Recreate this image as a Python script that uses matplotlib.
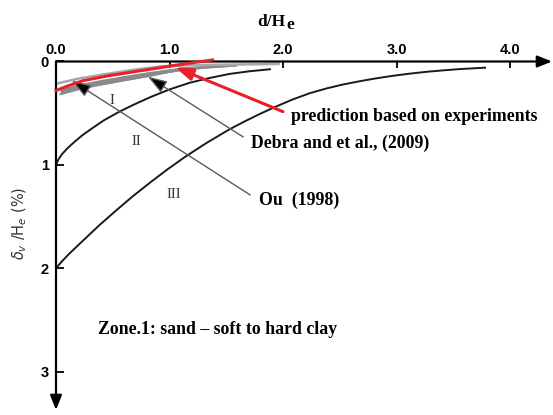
import matplotlib
matplotlib.use("Agg")
import matplotlib.pyplot as plt

# ---- data ----
# boundary curve between zones I and II
curve1_x = [0.0, 0.02, 0.05, 0.10, 0.16, 0.23, 0.30, 0.42, 0.55, 0.68, 0.83, 1.0, 1.18, 1.35, 1.53, 1.70, 1.885]
curve1_y = [1.0, 0.95, 0.90, 0.84, 0.78, 0.715, 0.66, 0.57, 0.49, 0.42, 0.345, 0.27, 0.205, 0.16, 0.12, 0.095, 0.075]
# boundary curve between zones II and III
curve2_x = [0.0, 0.05, 0.12, 0.24, 0.38, 0.53, 0.68, 0.83, 0.98, 1.14, 1.33, 1.53, 1.67, 1.80, 1.94, 2.09,
            2.24, 2.385, 2.53, 2.68, 2.82, 2.97, 3.12, 3.27, 3.42, 3.56, 3.78]
curve2_y = [2.0, 1.935, 1.855, 1.73, 1.585, 1.44, 1.30, 1.17, 1.045, 0.92, 0.785, 0.655, 0.575, 0.505, 0.435,
            0.365, 0.305, 0.26, 0.222, 0.19, 0.163, 0.138, 0.117, 0.099, 0.085, 0.073, 0.06]
# Debra et al. (2009) gray band
band_x = [0.035, 0.2, 0.39, 0.6, 0.80, 0.96, 1.12, 1.35, 1.59]
band_low = [0.32, 0.27, 0.227, 0.185, 0.147, 0.112, 0.082, 0.06, 0.043]
band_high = [0.265, 0.215, 0.175, 0.135, 0.10, 0.075, 0.05, 0.035, 0.028]
band_thin_x = [0.02, 0.2, 0.39, 0.65, 0.92, 1.2, 1.5, 1.75, 1.96]
band_thin_y = [0.21, 0.165, 0.13, 0.085, 0.048, 0.035, 0.03, 0.027, 0.024]
# prediction based on experiments (red)
pred_x = [0.0, 0.12, 0.24, 0.45, 0.68, 0.86, 1.03, 1.2, 1.38]
pred_y = [0.28, 0.23, 0.185, 0.14, 0.10, 0.07, 0.04, 0.012, -0.015]

x_ticks = [0, 1, 2, 3, 4]
x_tick_labels = ["0.0", "1.0", "2.0", "3.0", "4.0"]
y_ticks = [0, 1, 2, 3]
y_tick_labels = ["0", "1", "2", "3"]

SERIF = ["Liberation Serif", "DejaVu Serif"]
SANS = ["Liberation Sans", "DejaVu Sans"]

fig = plt.figure(figsize=(5.53, 4.15), dpi=100)
ax = fig.add_axes([56 / 553, 5 / 415, 496 / 553, 348.5 / 415])
XMAX, YMAX = 4.37, 3.37
ax.set_xlim(0, XMAX)
ax.set_ylim(YMAX, 0)
for s in ax.spines.values():
    s.set_visible(False)

AX_ARROW = "-|>,head_length=0.55,head_width=0.22"
ax.annotate("", xy=(XMAX, 0), xytext=(0, 0), annotation_clip=False,
            arrowprops=dict(arrowstyle=AX_ARROW, color="k", lw=1.6, mutation_scale=16, shrinkA=0, shrinkB=0))
ax.annotate("", xy=(0, YMAX), xytext=(0, 0), annotation_clip=False,
            arrowprops=dict(arrowstyle=AX_ARROW, color="k", lw=1.6, mutation_scale=16, shrinkA=0, shrinkB=0))

ax.xaxis.tick_top()
ax.set_xticks(x_ticks)
ax.set_xticklabels(x_tick_labels, fontfamily=SANS, fontweight="bold", fontsize=10.5)
ax.set_yticks(y_ticks)
ax.set_yticklabels(y_tick_labels, fontfamily=SANS, fontweight="bold", fontsize=10.5)
ax.tick_params(axis="x", direction="in", length=5, width=1.3, pad=3)
ax.tick_params(axis="y", direction="in", length=6, width=1.3, pad=5)

# curves
ax.plot(curve1_x, curve1_y, color="#1a1a1a", lw=1.4)
ax.plot(curve2_x, curve2_y, color="#1a1a1a", lw=1.4)

# gray band
ax.fill_between(band_x, band_low, band_high, color="#8a8a8a", lw=0)
ax.plot(band_x, band_low, color="#8a8a8a", lw=1.0)
ax.plot(band_thin_x, band_thin_y, color="#a8a8a8", lw=1.8, clip_on=False)

# red prediction line
ax.plot(pred_x, pred_y, color="#e8202a", lw=2.2, clip_on=False, zorder=5)

# pointer arrows
PTR = "-|>,head_length=0.65,head_width=0.22"
ax.annotate("", xy=(0.14, 0.185), xytext=(1.71, 1.29),
            arrowprops=dict(arrowstyle=PTR, ec="#5a5a5a", fc="k", lw=1.0, mutation_scale=18, shrinkA=0, shrinkB=0))
ax.annotate("", xy=(0.81, 0.147), xytext=(1.65, 0.73),
            arrowprops=dict(arrowstyle=PTR, ec="#5a5a5a", fc="k", lw=1.0, mutation_scale=18, shrinkA=0, shrinkB=0))
ax.annotate("", xy=(1.05, 0.056), xytext=(2.0, 0.485), zorder=6,
            arrowprops=dict(arrowstyle=PTR, color="#e8202a", lw=2.2, mutation_scale=16, shrinkA=0, shrinkB=0))

# labels
FS = 12.8
ax.text(2.07, 0.533, "prediction based on experiments", fontfamily=SERIF, fontweight="bold",
        fontsize=FS, va="center", ha="left")
ax.text(1.715, 0.79, "Debra and et al., (2009)", fontfamily=SERIF, fontweight="bold",
        fontsize=FS, va="center", ha="left")
ax.text(1.79, 1.34, "Ou  (1998)", fontfamily=SERIF, fontweight="bold",
        fontsize=FS, va="center", ha="left")
ax.text(0.367, 2.594, "Zone.1: sand \u2013 soft to hard clay", fontfamily=SERIF, fontweight="bold",
        fontsize=FS, va="center", ha="left")

ax.text(0.49, 0.38, "I", fontfamily=SERIF, fontsize=10.5, ha="center", va="center", color="#333")
ax.text(0.705, 0.775, "II", fontfamily=SERIF, fontsize=10.5, ha="center", va="center", color="#333")
ax.text(1.04, 1.29, "III", fontfamily=SERIF, fontsize=10.5, ha="center", va="center", color="#333")

# axis titles
fig.text(257 / 553, 1 - 21.5 / 415, "d/H", fontfamily=SERIF, fontweight="bold", fontsize=12.5,
         ha="left", va="center")
fig.text(286 / 553, 1 - 25 / 415, "e", fontfamily=SERIF, fontweight="bold", fontsize=12.5,
         ha="left", va="center")
fig.text(20 / 553, 1 - 223 / 415, r"$\delta_v$ /H$_e$ (%)", fontsize=10.5, rotation=90,
         ha="center", va="center", color="#333333")

fig.savefig("out.png", dpi=100)
